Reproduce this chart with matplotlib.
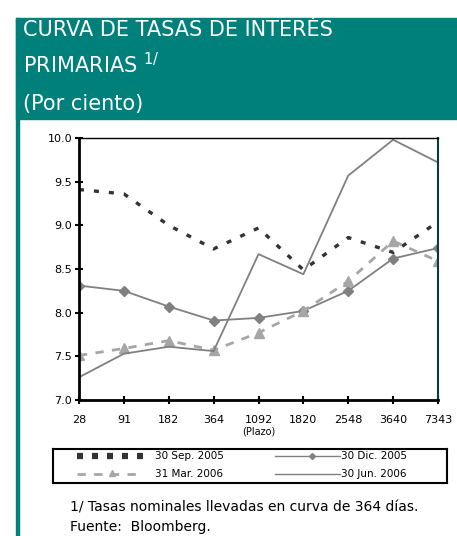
import matplotlib.pyplot as plt
from matplotlib.patches import Rectangle

plt.rcParams['font.family'] = ['DejaVu Sans']

# Plazo categories and yields (%)
plazos = ['28', '91', '182', '364', '1092', '1820', '2548', '3640', '7343']
sep_2005 = [9.41, 9.36, 9.00, 8.73, 8.97, 8.49, 8.86, 8.69, 9.04]
dic_2005 = [8.31, 8.25, 8.07, 7.91, 7.94, 8.02, 8.25, 8.62, 8.74]
mar_2006 = [7.51, 7.59, 7.68, 7.57, 7.77, 8.02, 8.36, 8.82, 8.59]
jun_2006 = [7.26, 7.53, 7.61, 7.56, 8.67, 8.44, 9.57, 9.98, 9.72]

teal = '#00807B'
W, H = 457, 536
x = list(range(len(plazos)))

fig = plt.figure(figsize=(W / 100, H / 100), dpi=100)

# header band and left border
fig.patches.append(Rectangle((16 / W, 1 - 119 / H), 441 / W, 101 / H,
                             transform=fig.transFigure, color=teal, zorder=0))
fig.patches.append(Rectangle((16 / W, 0), 2.5 / W, 1 - 18 / H,
                             transform=fig.transFigure, color=teal, zorder=0))
fig.text(23 / W, 1 - 36 / H, 'CURVA DE TASAS DE INTERÉS', color='white',
         fontsize=15, va='baseline')
fig.text(23 / W, 1 - 73 / H, 'PRIMARIAS $^{1/}$', color='white',
         fontsize=15, va='baseline')
fig.text(23 / W, 1 - 110 / H, '(Por ciento)', color='white',
         fontsize=15, va='baseline')

ax = fig.add_axes([79 / W, 1 - 400 / H, 359 / W, 262 / H])

ax.plot(x, sep_2005, color='#333333', lw=2.4, dashes=(1.5, 3.0),
        label='30 Sep. 2005')
ax.plot(x, dic_2005, color='#808080', lw=1.3, marker='D', ms=5.5,
        label='30 Dic. 2005')
ax.plot(x, mar_2006, color='#A6A6A6', lw=2.0, dashes=(3, 3), marker='^',
        ms=7, label='31 Mar. 2006')
ax.plot(x, jun_2006, color='#808080', lw=1.3, label='30 Jun. 2006')

ax.set_xlim(0, len(plazos) - 1)
ax.set_ylim(7.0, 10.0)
ax.set_xticks(x)
ax.set_xticklabels(plazos)
ax.set_yticks([7.0, 7.5, 8.0, 8.5, 9.0, 9.5, 10.0])
ax.set_yticklabels(['7.0', '7.5', '8.0', '8.5', '9.0', '9.5', '10.0'])
ax.tick_params(axis='x', direction='inout', length=6, width=1.5,
               labelsize=8, pad=8)
ax.tick_params(axis='y', direction='inout', length=6, width=1.5,
               labelsize=8, pad=2)
ax.set_xlabel('(Plazo)', fontsize=7, labelpad=1)

ax.spines['left'].set_linewidth(2)
ax.spines['bottom'].set_linewidth(2)
ax.spines['top'].set_linewidth(1)
ax.spines['right'].set_linewidth(1.5)
ax.spines['right'].set_color('#0a3a3a')

# legend box drawn by hand to match the layout
lg = fig.add_axes([53 / W, 1 - 483 / H, 394 / W, 34 / H])
lg.set_xlim(53, 447)
lg.set_ylim(483, 449)
lg.set_xticks([])
lg.set_yticks([])
for s in lg.spines.values():
    s.set_linewidth(1.5)
r1, r2 = 456, 474
lg.plot([77, 143], [r1, r1], color='#333333', lw=4.5, dashes=(0.96, 1.44),
        dash_capstyle='butt')
lg.text(155, r1, '30 Sep. 2005', fontsize=7.5, va='center')
lg.plot([77, 143], [r2, r2], color='#A6A6A6', lw=2.0, dashes=(3, 3))
lg.plot([112], [r2 - 1], color='#A6A6A6', marker='^', ms=5, ls='none')
lg.text(155, r2, '31 Mar. 2006', fontsize=7.5, va='center')
lg.plot([275, 340], [r1, r1], color='#808080', lw=1.0)
lg.plot([312], [r1], color='#808080', marker='D', ms=3, ls='none')
lg.text(341, r1, '30 Dic. 2005', fontsize=7.5, va='center')
lg.plot([275, 340], [r2, r2], color='#808080', lw=1.0)
lg.text(341, r2, '30 Jun. 2006', fontsize=7.5, va='center')

fig.text(70 / W, 1 - 511.5 / H,
         '1/ Tasas nominales llevadas en curva de 364 días.', fontsize=10,
         va='baseline')
fig.text(70 / W, 1 - 531.5 / H, 'Fuente:  Bloomberg.', fontsize=10,
         va='baseline')

fig.savefig('out.png', dpi=100)
